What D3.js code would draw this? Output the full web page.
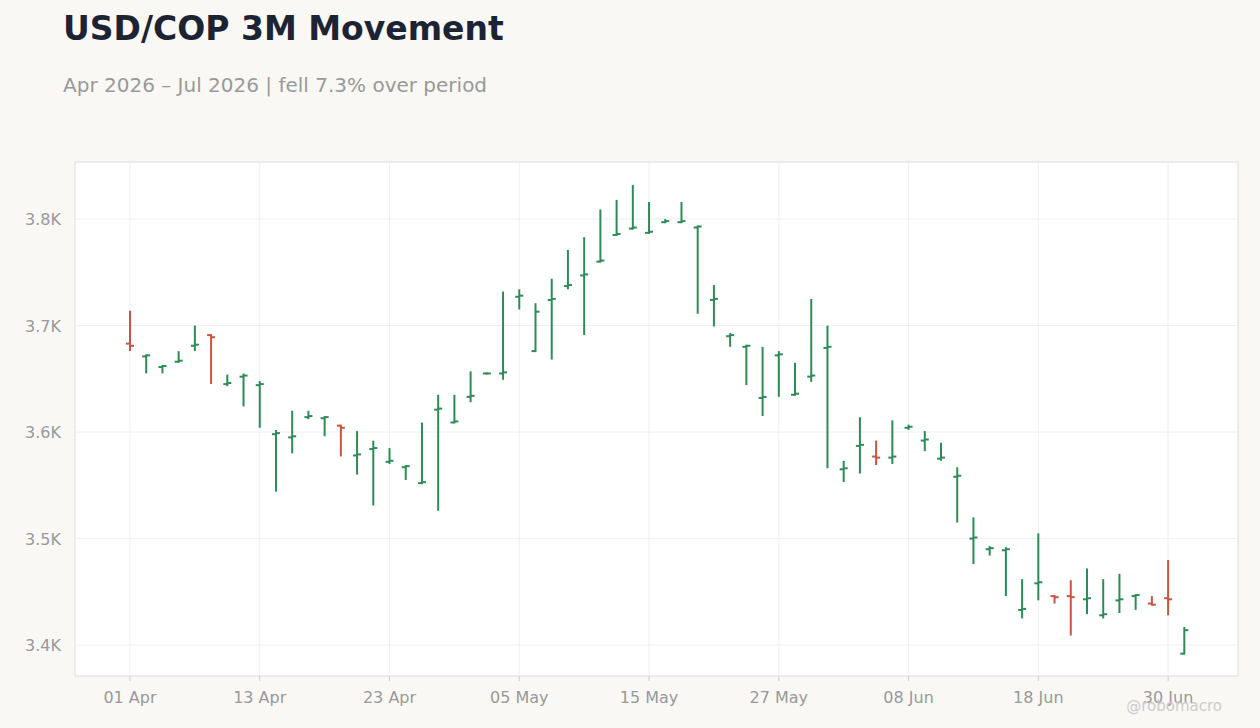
<!DOCTYPE html>
<html><head><meta charset="utf-8">
<script src="https://cdn.jsdelivr.net/npm/d3@7"></script>
<style>body{margin:0;background:#f9f8f5;font-family:"DejaVu Sans",sans-serif;}</style>
</head><body><svg id="c" width="1260" height="728"></svg>
<script>
const dates=["01 Apr","02 Apr","03 Apr","06 Apr","07 Apr","08 Apr","09 Apr","10 Apr","13 Apr","14 Apr","15 Apr","16 Apr","17 Apr","20 Apr","21 Apr","22 Apr","23 Apr","24 Apr","27 Apr","28 Apr","29 Apr","30 Apr","01 May","04 May","05 May","06 May","07 May","08 May","11 May","12 May","13 May","14 May","15 May","18 May","19 May","20 May","21 May","22 May","25 May","26 May","27 May","28 May","29 May","01 Jun","02 Jun","03 Jun","04 Jun","05 Jun","08 Jun","09 Jun","10 Jun","11 Jun","12 Jun","15 Jun","16 Jun","17 Jun","18 Jun","19 Jun","22 Jun","23 Jun","24 Jun","25 Jun","26 Jun","29 Jun","30 Jun","01 Jul"];
const open=[3683,3671,3661,3666,3681,3691,3645,3652,3644,3598,3595,3614,3613,3606,3578,3584,3572,3567,3552,3621,3609,3633,3655,3655,3727,3676,3724,3737,3747,3760,3785,3791,3787,3797,3797,3792,3724,3690,3680,3632,3672,3635,3652,3679,3565,3587,3577,3576,3604,3592,3575,3558,3500,3490,3489,3433,3458,3446,3446,3443,3428,3442,3446,3439,3444,3392];
const high=[3713,3672,3662,3675,3699,3691,3653,3654,3647,3601,3619,3619,3614,3606,3600,3591,3584,3568,3608,3634,3634,3656,3655,3731,3733,3720,3743,3770,3782,3808,3817,3831,3815,3799,3815,3793,3737,3692,3681,3679,3675,3664,3724,3699,3572,3613,3591,3610,3606,3600,3589,3566,3519,3492,3491,3461,3504,3446,3460,3471,3461,3466,3447,3445,3479,3416];
const low=[3677,3656,3656,3666,3677,3646,3644,3625,3605,3545,3581,3613,3597,3578,3561,3532,3571,3556,3552,3527,3609,3629,3655,3650,3716,3676,3669,3735,3692,3760,3785,3791,3787,3797,3797,3712,3700,3681,3645,3616,3634,3635,3648,3567,3554,3562,3570,3571,3603,3583,3574,3516,3477,3485,3447,3426,3443,3440,3410,3430,3426,3431,3434,3438,3429,3392];
const close=[3681,3672,3662,3667,3682,3689,3646,3653,3645,3599,3596,3615,3614,3604,3579,3585,3573,3568,3553,3622,3610,3634,3655,3656,3728,3713,3725,3738,3748,3761,3786,3792,3788,3798,3798,3793,3725,3691,3681,3633,3673,3636,3653,3680,3566,3588,3576,3577,3605,3593,3576,3559,3501,3491,3490,3434,3459,3445,3445,3444,3429,3443,3447,3438,3443,3414];
const yTicks=[3400,3500,3600,3700,3800];
const xTickIdx=[0,8,16,24,32,40,48,56,64];

const svg=d3.select("#c");
const L=75,R=1238,T=162,B=676;
const x=d3.scaleLinear().domain([-3.39,68.31]).range([L,R]);
const y=d3.scaleLinear().domain([3371,3853.5]).range([B,T]);
svg.append("text").attr("x",63).attr("y",40).attr("font-size",33).attr("font-weight","bold").attr("fill","#1c2433").text("USD/COP 3M Movement");
svg.append("text").attr("x",63).attr("y",92).attr("font-size",20).attr("fill","#999").text("Apr 2026 – Jul 2026 | fell 7.3% over period");
svg.append("rect").attr("x",L).attr("y",T).attr("width",R-L).attr("height",B-T).attr("fill","#fff").attr("stroke","#e0ddd6");
const g=svg.append("g");
g.selectAll(".gy").data(yTicks).join("line").attr("x1",L).attr("x2",R).attr("y1",d=>y(d)).attr("y2",d=>y(d)).attr("stroke","#efefef");
g.selectAll(".gx").data(xTickIdx).join("line").attr("y1",T).attr("y2",B).attr("x1",d=>x(d)).attr("x2",d=>x(d)).attr("stroke","#efefef");
svg.selectAll(".ty").data(yTicks).join("text").attr("x",61).attr("y",d=>y(d)+6).attr("text-anchor","end").attr("font-size",16).attr("fill","#999").text(d=>d3.format(".1f")(d/1000)+"K");
svg.selectAll(".tx").data(xTickIdx).join("text").attr("x",d=>x(d)).attr("y",703).attr("text-anchor","middle").attr("font-size",16).attr("fill","#999").text(d=>dates[d]);
svg.selectAll(".tk").data(xTickIdx).join("line").attr("x1",d=>x(d)).attr("x2",d=>x(d)).attr("y1",B).attr("y2",B+5).attr("stroke","#ccc");
const idx=d3.range(dates.length);
const col=i=>close[i]>=open[i]?"#2e8b57":"#c8553d";
const bars=svg.append("g").selectAll("g").data(idx).join("g").attr("stroke",col).attr("stroke-width",2);
bars.append("line").attr("x1",i=>x(i)).attr("x2",i=>x(i)).attr("y1",i=>y(high[i])-1).attr("y2",i=>y(low[i])+1);
bars.append("line").attr("x1",i=>x(i)-4).attr("x2",i=>x(i)).attr("y1",i=>y(open[i])).attr("y2",i=>y(open[i]));
bars.append("line").attr("x1",i=>x(i)).attr("x2",i=>x(i)+4).attr("y1",i=>y(close[i])).attr("y2",i=>y(close[i]));
svg.append("text").attr("x",1222).attr("y",711).attr("text-anchor","end").attr("font-size",15).attr("fill","#ccc").text("@robomacro");
</script></body></html>
